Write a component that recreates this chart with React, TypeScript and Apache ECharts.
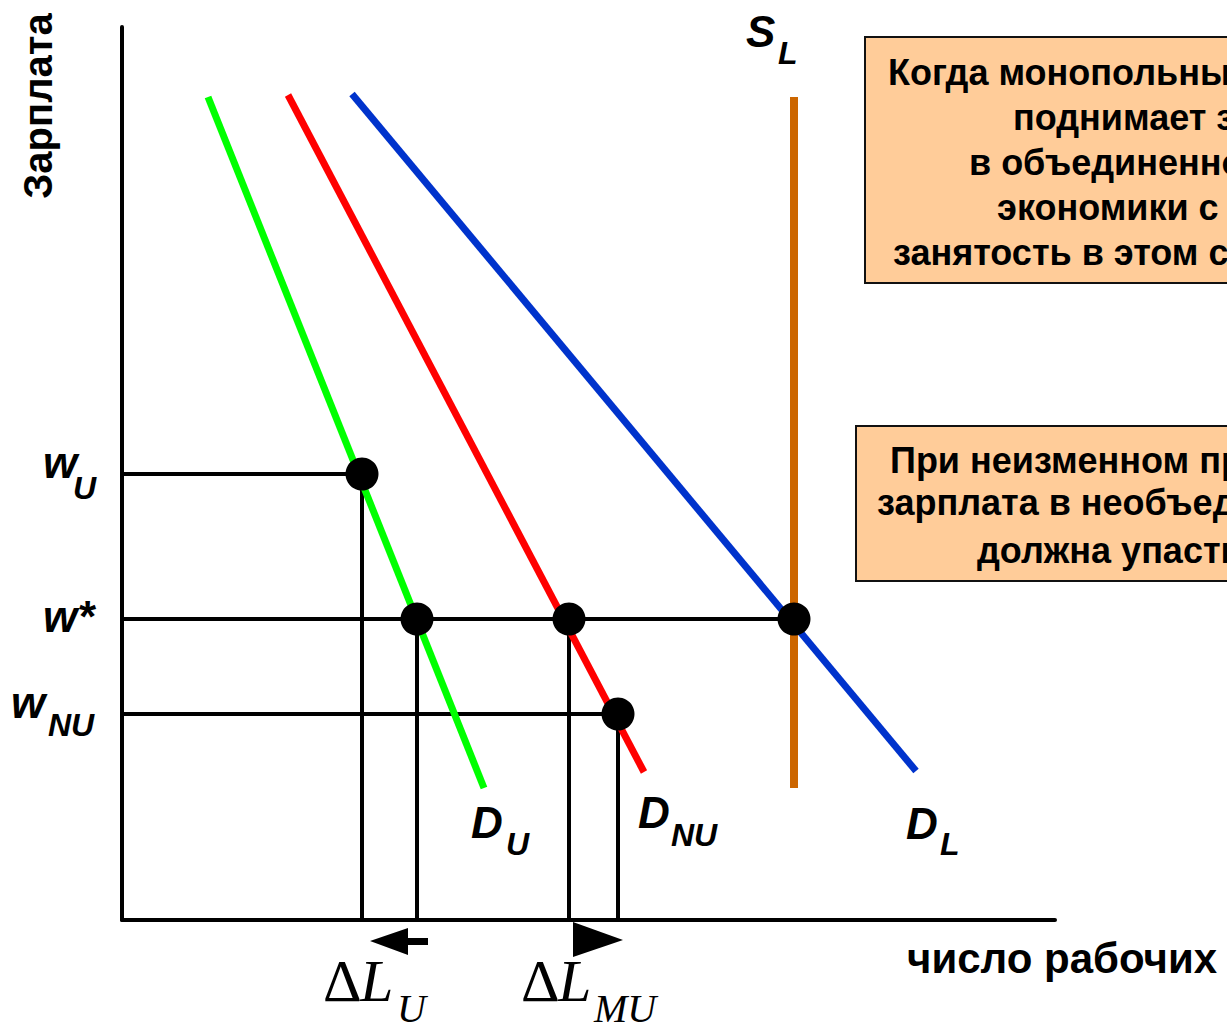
import React, { useEffect, useRef } from "react";
import * as echarts from "echarts";

// Axis extents (labour units, wage units)
const X_MAX = 933;
const Y_MAX = 893;

// Curves: [ [x1, y1], [x2, y2] ]
const demandUnion = [[86, 823], [362, 132]];
const demandNonUnion = [[166, 825], [522, 148]];
const demandLabor = [[230, 826], [794, 149]];
const supplyLabor = [[672, 823], [672, 132]];

// Wage levels
const wageU = 446;
const wageStar = 301;
const wageNU = 206;

// Employment levels
const empUnion = 240; // at wU on D_U
const empUnionStar = 295; // at w* on D_U
const empNonUnionStar = 447; // at w* on D_NU
const empTotal = 672; // at w* on D_L / S_L
const empNonUnion = 496; // at wNU on D_NU

const dots = [
  [empUnion, wageU],
  [empUnionStar, wageStar],
  [empNonUnionStar, wageStar],
  [empTotal, wageStar],
  [empNonUnion, wageNU],
];

const hGuides = [
  [[0, wageU], [empUnion, wageU]],
  [[0, wageStar], [empTotal, wageStar]],
  [[0, wageNU], [empNonUnion, wageNU]],
];
const vGuides = [
  [[empUnion, wageU], [empUnion, 0]],
  [[empUnionStar, wageStar], [empUnionStar, 0]],
  [[empNonUnionStar, wageStar], [empNonUnionStar, 0]],
  [[empNonUnion, wageNU], [empNonUnion, 0]],
];

const box1Lines = [
  "Когда монопольный профсоюз",
  "поднимает зарплату",
  "в объединенном секторе",
  "экономики с w* до wU,",
  "занятость в этом секторе падает",
];
const box2Lines = [
  "При неизменном предложении",
  "зарплата в необъединенном секторе",
  "должна упасть до wNU",
];
const yAxisTitle = "Зарплата";
const xAxisTitle = "число рабочих";

const SANS = "'Liberation Sans', Arial, sans-serif";
const SERIF = "'Liberation Serif', 'Times New Roman', serif";

function txt(text: string, x: number, y: number, font: string, align = "left", extra: any = {}) {
  return {
    type: "text",
    x,
    y,
    silent: true,
    z: 100,
    style: { text, font, fill: "#000", align, verticalAlign: "middle" },
    ...extra,
  };
}

export default function App() {
  const ref = useRef<HTMLDivElement>(null);
  useEffect(() => {
    if (!ref.current) return;
    const chart = echarts.init(ref.current, null, { renderer: "svg" });
    const lineSeries = (data: number[][], color: string, width: number, z: number) => ({
      type: "line",
      data,
      symbol: "none",
      showSymbol: false,
      lineStyle: { color, width, cap: "butt", opacity: 1 },
      z,
      silent: true,
    });
    const series: any[] = [];
    hGuides.forEach((g) => series.push(lineSeries(g, "#000", 4, 1)));
    vGuides.forEach((g) => series.push(lineSeries(g, "#000", 4, 1)));
    series.push(lineSeries(supplyLabor, "#CC6600", 8, 2));
    series.push(lineSeries(demandUnion, "#00FF00", 7, 3));
    series.push(lineSeries(demandNonUnion, "#FF0000", 7, 3));
    series.push(lineSeries(demandLabor, "#0033CC", 7, 3));
    series.push({
      type: "scatter",
      data: dots,
      symbol: "circle",
      symbolSize: 33,
      itemStyle: { color: "#000", opacity: 1 },
      z: 5,
      silent: true,
    });

    chart.setOption({
      animation: false,
      backgroundColor: "#fff",
      grid: { left: 122, right: 172, top: 27, bottom: 103 },
      xAxis: {
        type: "value",
        min: 0,
        max: X_MAX,
        axisLine: { show: true, lineStyle: { color: "#000", width: 4 } },
        axisTick: { show: false },
        axisLabel: { show: false },
        splitLine: { show: false },
      },
      yAxis: {
        type: "value",
        min: 0,
        max: Y_MAX,
        axisLine: { show: true, lineStyle: { color: "#000", width: 4 } },
        axisTick: { show: false },
        axisLabel: { show: false },
        splitLine: { show: false },
      },
      series,
    });

    const px = (p: number[]) => chart.convertToPixel({ gridIndex: 0 }, p) as number[];
    const main = `italic bold 44px ${SANS}`;
    const sub = `italic bold 32px ${SANS}`;
    const boxFont = `bold 36px ${SANS}`;

    const g: any[] = [];
    // Text boxes
    g.push({
      type: "rect",
      shape: { x: 865, y: 37, width: 500, height: 246 },
      style: { fill: "#FFCC99", stroke: "#111", lineWidth: 2 },
      z: 50,
    });
    const b1x = [888, 1013, 969, 997, 893];
    const b1y = [72, 117, 162, 207, 252];
    box1Lines.forEach((t, i) => g.push(txt(t, b1x[i], b1y[i], boxFont)));
    g.push({
      type: "rect",
      shape: { x: 856, y: 426, width: 500, height: 155 },
      style: { fill: "#FFCC99", stroke: "#111", lineWidth: 2 },
      z: 50,
    });
    const b2x = [890, 877, 977];
    const b2y = [460, 502, 550];
    box2Lines.forEach((t, i) => g.push(txt(t, b2x[i], b2y[i], boxFont)));

    // Axis titles
    g.push(txt(yAxisTitle, 38, 106, `bold 40px ${SANS}`, "center", { rotation: Math.PI / 2 }));
    g.push(txt(xAxisTitle, 907, 958, `bold 42px ${SANS}`));

    // Curve labels
    const du = px(demandUnion[1]);
    g.push(txt("D", du[0] - 13, du[1] + 34, main));
    g.push(txt("U", du[0] + 22, du[1] + 56, sub));
    const dnu = px(demandNonUnion[1]);
    g.push(txt("D", dnu[0] - 6, dnu[1] + 40, main));
    g.push(txt("NU", dnu[0] + 27, dnu[1] + 63, sub));
    const dl = px(demandLabor[1]);
    g.push(txt("D", dl[0] - 10, dl[1] + 52, main));
    g.push(txt("L", dl[0] + 24, dl[1] + 73, sub));
    const sl = px(supplyLabor[0]);
    g.push(txt("S", sl[0] - 48, sl[1] - 66, main));
    g.push(txt("L", sl[0] - 16, sl[1] - 44, sub));

    // Wage labels
    const aU = px([0, wageU]);
    g.push(txt("w", aU[0] - 79, aU[1] - 12, main));
    g.push(txt("U", aU[0] - 49, aU[1] + 14, sub));
    const aS = px([0, wageStar]);
    g.push(txt("w*", aS[0] - 79, aS[1] - 3, main));
    const aN = px([0, wageNU]);
    g.push(txt("w", aN[0] - 111, aN[1] - 12, main));
    g.push(txt("NU", aN[0] - 74, aN[1] + 11, sub));

    // Delta labels
    const pU = px([empUnion, 0]);
    g.push(txt("Δ", pU[0] - 39, pU[1] + 61, `60px ${SERIF}`));
    g.push(txt("L", pU[0] - 2, pU[1] + 61, `italic 60px ${SERIF}`));
    g.push(txt("U", pU[0] + 35, pU[1] + 88, `italic 40px ${SERIF}`));
    const pM = px([empNonUnionStar, 0]);
    g.push(txt("Δ", pM[0] - 48, pM[1] + 61, `60px ${SERIF}`));
    g.push(txt("L", pM[0] - 11, pM[1] + 61, `italic 60px ${SERIF}`));
    g.push(txt("MU", pM[0] + 25, pM[1] + 88, `italic 40px ${SERIF}`));

    // Arrows
    const a1 = px([empUnion, 0]);
    const a1b = px([empUnionStar, 0]);
    const ay = a1[1] + 21;
    g.push({
      type: "polygon",
      silent: true,
      shape: {
        points: [
          [a1[0] + 8, ay],
          [a1[0] + 46, ay - 13],
          [a1[0] + 46, ay - 3],
          [a1b[0] + 11, ay - 3],
          [a1b[0] + 11, ay + 4],
          [a1[0] + 46, ay + 4],
          [a1[0] + 46, ay + 14],
        ],
      },
      style: { fill: "#000" },
    });
    const a2 = px([empNonUnionStar, 0]);
    const a2b = px([empNonUnion, 0]);
    g.push({
      type: "polygon",
      silent: true,
      shape: {
        points: [
          [a2[0] + 4, a2[1] + 2],
          [a2b[0] + 5, a2[1] + 20],
          [a2[0] + 4, a2[1] + 37],
        ],
      },
      style: { fill: "#000" },
    });

    chart.setOption({ graphic: g });
    return () => chart.dispose();
  }, []);
  return (
    <div
      ref={ref}
      style={{ position: "fixed", left: 0, top: 0, width: 1227, height: 1023, background: "#fff" }}
    />
  );
}
